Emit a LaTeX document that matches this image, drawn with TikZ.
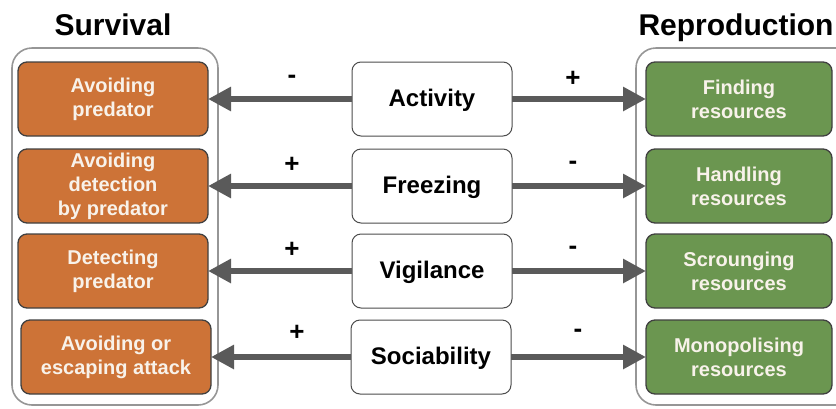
\documentclass[tikz,border=0pt]{standalone}
\usepackage{fontspec}
\setmainfont{Liberation Sans}
\usetikzlibrary{arrows.meta}

\definecolor{orangebox}{RGB}{205,115,55}
\definecolor{gruenbox}{RGB}{107,150,80}
\definecolor{pfeilgrau}{RGB}{90,90,90}
\definecolor{rahmengrau}{RGB}{150,150,150}
\definecolor{schrift}{RGB}{248,242,234}

\begin{document}
\begin{tikzpicture}[
    x=1pt, y=-1pt,
    kasten/.style={
      rectangle,
      rounded corners=9pt,
      draw=black!75,
      line width=1.3pt,
      minimum height=74pt,
      outer sep=0pt,
      align=center,
      text=schrift,
      font=\fontsize{20}{24}\selectfont\bfseries},
    links/.style={kasten, fill=orangebox, minimum width=190pt},
    rechts/.style={kasten, fill=gruenbox, minimum width=186pt},
    mitte/.style={kasten, fill=white, draw=black!70, line width=1pt,
      minimum width=160pt, text=black,
      font=\fontsize{24}{28}\selectfont\bfseries},
    rahmen/.style={draw=rahmengrau, line width=1.6pt, rounded corners=20pt},
    titel/.style={font=\fontsize{30}{34}\selectfont\bfseries},
    zeichen/.style={font=\fontsize{26}{30}\selectfont\bfseries},
    pfeil/.style={draw=pfeilgrau, line width=6.5pt,
      -{Triangle[length=23pt,width=23pt]}}
    ]

  \useasboundingbox (0,0) rectangle (836,408);

  % outer frames
  \draw [rahmen] (12,48) rectangle (218,405);
  \draw [rahmen] (636,48) rectangle (860,405);

  \node at (113,25) (survival) [titel] {Survival};
  \node at (736,28) (reproduction) [titel] {Reproduction};

  % survival side
  \node at (113,99)  (links1) [links] {Avoiding\\predator};
  \node at (113,186) (links2) [links] {Avoiding\\detection\\by predator};
  \node at (113,271) (links3) [links] {Detecting\\predator};
  \node at (116,357) (links4) [links] {Avoiding or\\escaping attack};

  % behaviours
  \node at (432,99)  (mitte1) [mitte, text depth=2pt] {Activity};
  \node at (432,186) (mitte2) [mitte, text depth=2pt] {Freezing};
  \node at (432,271) (mitte3) [mitte, text depth=2pt] {Vigilance};
  \node at (431,357) (mitte4) [mitte, text depth=2pt] {Sociability};

  % reproduction side
  \node at (739,99)  (rechts1) [rechts] {Finding\\resources};
  \node at (739,186) (rechts2) [rechts] {Handling\\resources};
  \node at (739,271) (rechts3) [rechts] {Scrounging\\resources};
  \node at (739,357) (rechts4) [rechts] {Monopolising\\resources};

  \foreach \i in {1,...,4} {
    \path [pfeil] (mitte\i) -- (links\i);
    \path [pfeil] (mitte\i) -- (rechts\i);
  }

  \node at (292,79)  (z1l) [zeichen] {-};
  \node at (573,79)  (z1r) [zeichen] {+};
  \node at (292,165) (z2l) [zeichen] {+};
  \node at (573,165) (z2r) [zeichen] {-};
  \node at (292,250) (z3l) [zeichen] {+};
  \node at (573,250) (z3r) [zeichen] {-};
  \node at (297,333) (z4l) [zeichen] {+};
  \node at (578,333) (z4r) [zeichen] {-};

\end{tikzpicture}
\end{document}
